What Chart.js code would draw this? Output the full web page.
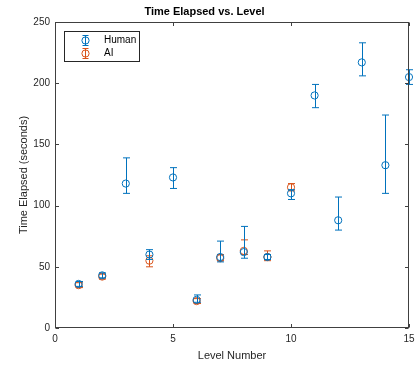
<!DOCTYPE html>
<html>
<head>
<meta charset="utf-8">
<script src="https://cdn.jsdelivr.net/npm/chart.js@4.4.1/dist/chart.umd.min.js"></script>
<style>
html,body{margin:0;padding:0;background:#fff;}
#wrap{width:416px;height:367px;position:relative;}
</style>
</head>
<body>
<div id="wrap"><canvas id="c" width="416" height="367"></canvas></div>
<script>
// ---- data ----
const humanLevels = [1,2,3,4,5,6,7,8,9,10,11,12,13,14,15];
const humanMean   = [36,43,118,60,123,23,58,62,58,110,190,88,217,133,205];
const humanLow    = [34,41,110,56,114,21,54,57,56,105,180,80,206,110,199];
const humanHigh   = [38,45,139,64,131,27,71,83,60,113,199,107,233,174,211];

const aiLevels = [1,2,4,6,7,8,9,10];
const aiMean   = [35,42,55,22,57,63,58,115];
const aiLow    = [33,40,50,20,55,60,55,112];
const aiHigh   = [37,44,59,24,60,72,63,118];

const xTicks = [0,5,10,15];
const yTicks = [0,50,100,150,200,250];

const titleText = 'Time Elapsed vs. Level';
const xLabel = 'Level Number';
const yLabel = 'Time Elapsed (seconds)';
const seriesNames = ['Human','AI'];
const colors = ['#0072BD','#D95319'];

function pts(xs, ys, lo, hi){
  return xs.map((x,i)=>({x:x, y:ys[i], lo:lo[i], hi:hi[i]}));
}

const FONT = "'Liberation Sans', Arial, Helvetica, sans-serif";
const AXC = '#262626';

const errorBars = {
  id:'errorBars',
  beforeDatasetDraw(chart, args){
    const ds = chart.data.datasets[args.index];
    const xs = chart.scales.x, ys = chart.scales.y;
    const ctx = chart.ctx;
    ctx.save();
    ctx.strokeStyle = ds.borderColor;
    ctx.lineWidth = 1;
    ds.data.forEach(p=>{
      const px = Math.round(xs.getPixelForValue(p.x))+0.5;
      const yl = ys.getPixelForValue(p.lo);
      const yh = ys.getPixelForValue(p.hi);
      ctx.beginPath();
      ctx.moveTo(px, yl); ctx.lineTo(px, yh);
      ctx.moveTo(px-3.5, yl); ctx.lineTo(px+3.5, yl);
      ctx.moveTo(px-3.5, yh); ctx.lineTo(px+3.5, yh);
      ctx.stroke();
    });
    ctx.restore();
  }
};

const boxAndTicks = {
  id:'boxAndTicks',
  afterDraw(chart){
    const {ctx, chartArea:a} = chart;
    const xs = chart.scales.x, ys = chart.scales.y;
    ctx.save();
    ctx.strokeStyle = '#404040';
    ctx.lineWidth = 1;
    const L = Math.round(a.left)+0.5, R = Math.round(a.right)-0.5;
    const T = Math.round(a.top)+0.5, B = Math.round(a.bottom)-0.5;
    ctx.strokeRect(L, T, R-L, B-T);
    ctx.beginPath();
    xTicks.forEach(v=>{
      const px = Math.round(xs.getPixelForValue(v))+0.5;
      ctx.moveTo(px, B); ctx.lineTo(px, B-3.5);
      ctx.moveTo(px, T); ctx.lineTo(px, T+3.5);
    });
    yTicks.forEach(v=>{
      const py = Math.round(ys.getPixelForValue(v))+0.5;
      ctx.moveTo(L, py); ctx.lineTo(L+3.5, py);
      ctx.moveTo(R, py); ctx.lineTo(R-3.5, py);
    });
    ctx.stroke();

    // legend
    const lx = 64.5, ly = 31.5, lw = 75, lh = 30;
    ctx.fillStyle = '#fff';
    ctx.fillRect(lx, ly, lw, lh);
    ctx.strokeStyle = '#262626';
    ctx.strokeRect(lx, ly, lw, lh);
    const rows = [40.5, 53.5];
    chart.data.datasets.forEach((ds, i)=>{
      const cx = 85.5, cy = rows[i];
      ctx.strokeStyle = ds.borderColor;
      ctx.beginPath();
      ctx.moveTo(cx, cy-5); ctx.lineTo(cx, cy+5);
      ctx.moveTo(cx-3, cy-5); ctx.lineTo(cx+3, cy-5);
      ctx.moveTo(cx-3, cy+5); ctx.lineTo(cx+3, cy+5);
      ctx.stroke();
      ctx.beginPath();
      ctx.arc(cx, cy, 3.6, 0, Math.PI*2);
      ctx.stroke();
      ctx.fillStyle = '#000';
      ctx.font = '10px ' + FONT;
      ctx.textBaseline = 'middle';
      ctx.textAlign = 'left';
      ctx.fillText(ds.label, 104, cy);
    });
    ctx.restore();
  }
};

new Chart(document.getElementById('c'), {
  type:'scatter',
  data:{
    datasets:[
      {label:seriesNames[0], data:pts(humanLevels, humanMean, humanLow, humanHigh),
       borderColor:colors[0], backgroundColor:'rgba(0,0,0,0)', pointRadius:3.6, pointBorderWidth:1,
       pointHoverRadius:3.6, clip:false},
      {label:seriesNames[1], data:pts(aiLevels, aiMean, aiLow, aiHigh),
       borderColor:colors[1], backgroundColor:'rgba(0,0,0,0)', pointRadius:3.6, pointBorderWidth:1,
       pointHoverRadius:3.6, clip:false}
    ]
  },
  options:{
    responsive:false,
    animation:false,
    events:[],
    layout:{padding:{left:0, right:7, top:0, bottom:0}},
    plugins:{
      legend:{display:false},
      tooltip:{enabled:false},
      title:{display:true, text:titleText, color:'#000',
             font:{family:FONT, size:11, weight:'bold', lineHeight:'13px'},
             padding:{top:5, bottom:4}}
    },
    scales:{
      x:{type:'linear', min:0, max:15,
         afterBuildTicks(s){ s.ticks = xTicks.map(v=>({value:v})); },
         afterFit(s){ s.height = 39; s.paddingLeft = 0; s.paddingRight = 0; },
         grid:{display:false, drawTicks:false}, border:{display:false},
         ticks:{color:AXC, font:{family:FONT, size:10}, padding:5, maxRotation:0},
         title:{display:true, text:xLabel, color:AXC, font:{family:FONT, size:11, lineHeight:1.2},
                padding:{top:0, bottom:4.4}}
      },
      y:{type:'linear', min:0, max:250,
         afterBuildTicks(s){ s.ticks = yTicks.map(v=>({value:v})); },
         afterFit(s){ s.width = 55; s.paddingTop = 0; s.paddingBottom = 0; },
         grid:{display:false, drawTicks:false}, border:{display:false},
         ticks:{color:AXC, font:{family:FONT, size:10}, padding:5},
         title:{display:true, text:yLabel, color:AXC, font:{family:FONT, size:11, lineHeight:1.2},
                padding:{top:17.4, bottom:0}}
      }
    }
  },
  plugins:[errorBars, boxAndTicks]
});
</script>
</body>
</html>
